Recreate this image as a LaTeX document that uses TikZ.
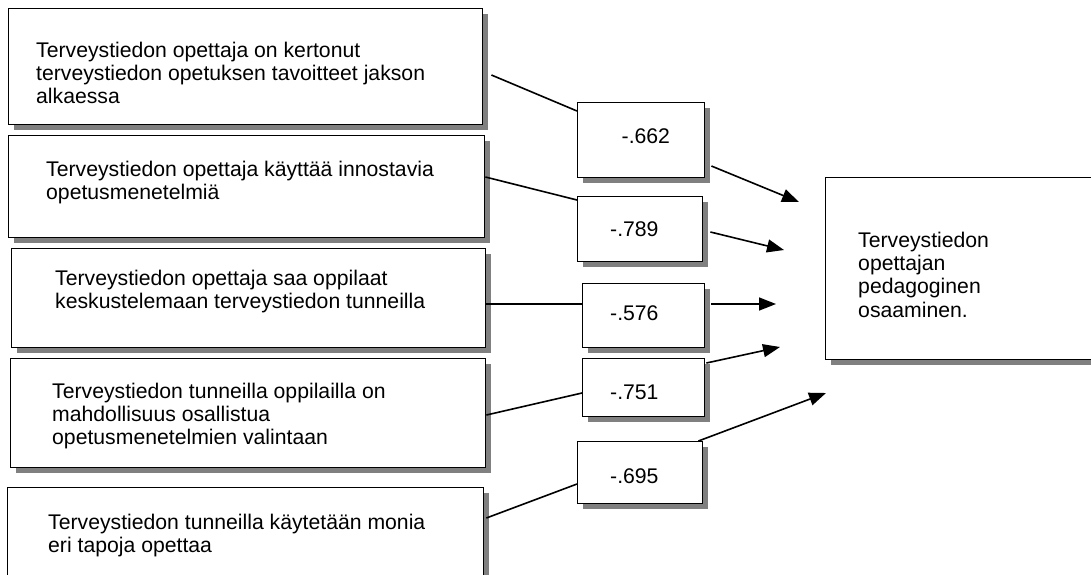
\documentclass[tikz,border=0pt]{standalone}
\usepackage{fontspec}
\setmainfont{Liberation Sans}
\usetikzlibrary{shadows,arrows.meta,calc}
\newcommand{\mlines}[1]{\begin{tabular}[t]{@{}l@{}}#1\end{tabular}}
\begin{document}
\begin{tikzpicture}[x=1pt,y=-1pt,
  font=\fontsize{21.2pt}{23.4pt}\selectfont,
  box/.style={draw=black, line width=1.4pt, fill=white, inner sep=0pt, anchor=north west,
    drop shadow={shadow xshift=5pt, shadow yshift=-5pt, fill=black!50, opacity=1}},
  lbl/.style={anchor=base west, inner sep=0pt},
  conn/.style={line width=1.6pt},
  arr/.style={conn, -{Triangle[length=17pt,width=13pt]}}]
\useasboundingbox (0,0) rectangle (1091,574);
\fill[white] (0,0) rectangle (1091,574);
\clip (0,0) rectangle (1091,574);

% left boxes
\node[box, minimum width=474pt, minimum height=116pt] (b1) at (8,8) {};
\node[box, minimum width=476pt, minimum height=102pt] (b2) at (8,135) {};
\node[box, minimum width=474pt, minimum height=99pt]  (b3) at (11,248) {};
\node[box, minimum width=475pt, minimum height=109pt] (b4) at (10,358) {};
\node[box, minimum width=476pt, minimum height=113pt] (b5) at (7,487) {};

% value boxes
\node[box, minimum width=127pt, minimum height=75pt] (v1) at (577,102) {};
\node[box, minimum width=125pt, minimum height=65pt] (v2) at (577,196) {};
\node[box, minimum width=122pt, minimum height=64pt] (v3) at (582,283) {};
\node[box, minimum width=122pt, minimum height=58pt] (v4) at (582,358) {};
\node[box, minimum width=125pt, minimum height=62pt] (v5) at (577,441) {};

% target box
\node[box, minimum width=295pt, minimum height=182pt] (t) at (825,177) {};

% texts
\node[lbl] (tx1) at (36,57) {\mlines{Terveystiedon opettaja on kertonut\\terveystiedon opetuksen tavoitteet jakson\\alkaessa}};
\node[lbl] (tx2) at (46,176.5) {\mlines{Terveystiedon opettaja käyttää innostavia\\opetusmenetelmiä}};
\node[lbl] (tx3) at (55,285) {\mlines{Terveystiedon opettaja saa oppilaat\\keskustelemaan terveystiedon tunneilla}};
\node[lbl] (tx4) at (52,398) {\mlines{Terveystiedon tunneilla oppilailla on\\mahdollisuus osallistua\\opetusmenetelmien valintaan}};
\node[lbl] (tx5) at (48,529.5) {\mlines{Terveystiedon tunneilla käytetään monia\\eri tapoja opettaa}};
\node[lbl] (tt) at (858,247) {\mlines{Terveystiedon\\opettajan\\pedagoginen\\osaaminen.}};

\node[lbl] (n1) at (621.5,143) {-.662};
\node[lbl] (n2) at (610,236) {-.789};
\node[lbl] (n3) at (610,320) {-.576};
\node[lbl] (n4) at (610,399) {-.751};
\node[lbl] (n5) at (610,483) {-.695};

% arrow tips (free ends)
\coordinate (a1) at (799,202);
\coordinate (a2) at (784,250);
\coordinate (a3) at (776,304);
\coordinate (a4) at (780,347);
\coordinate (a5) at (826,393);

% connectors
\draw[conn] ($(b1.north east)+(8,67)$) -- ($(v1.north west)+(0,9)$);
\draw[arr]  ($(v1.north east)+(6,64)$) -- (a1);
\draw[conn] ($(b2.north east)+(0,42)$) -- ($(v2.north west)+(0,4)$);
\draw[arr]  ($(v2.north east)+(7,36)$) -- (a2);
\draw[conn] ($(b3.north east)+(0,56)$) -- ($(v3.north west)+(0,21)$);
\draw[arr]  ($(v3.north east)+(6,21)$) -- (a3);
\draw[conn] ($(b4.north east)+(0,57)$) -- ($(v4.north west)+(0,35)$);
\draw[arr]  ($(v4.north east)+(1,5)$) -- (a4);
\draw[conn] ($(b5.north east)+(2,31)$) -- ($(v5.north west)+(0,43)$);
\draw[arr]  ($(v5.north east)+(-5,0)$) -- (a5);
\end{tikzpicture}
\end{document}
